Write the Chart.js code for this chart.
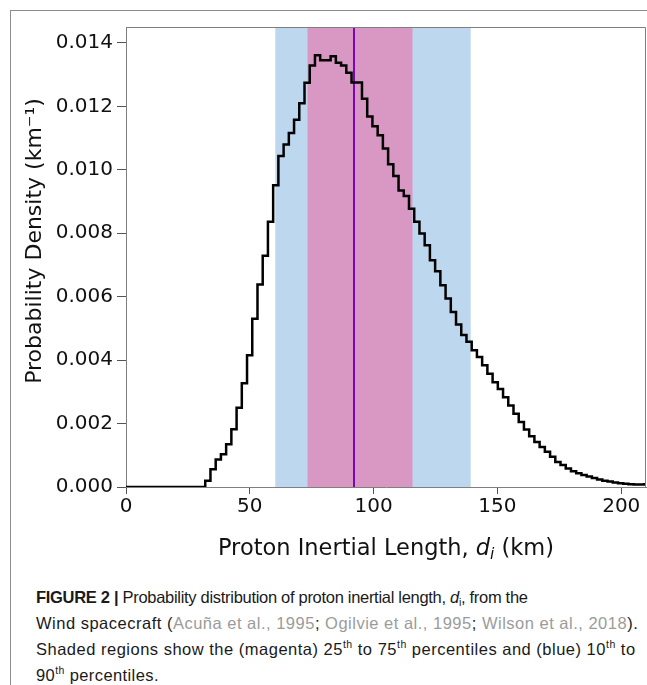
<!DOCTYPE html>
<html>
<head>
<meta charset="utf-8">
<script src="https://cdn.jsdelivr.net/npm/chart.js@4.4.1/dist/chart.umd.min.js"></script>
<style>
	html, body { margin: 0; padding: 0; background: #fff; }
	body { width: 647px; height: 685px; position: relative; overflow: hidden; }
	#frame { position: absolute; left: 10px; top: 10px; width: 660px; height: 700px; border-left: 1px solid #8c8c8c; border-top: 1px solid #8c8c8c; }
	#wrap { position: absolute; left: 0; top: 0; width: 647px; height: 580px; }
	#caption { position: absolute; left: 36px; top: 584px; white-space: nowrap; font-family: "Liberation Sans", Arial, sans-serif; font-size: 16.5px; line-height: 26px; color: #1a1a1a; }
	#caption div { height: 26px; }
	#caption .l1 { letter-spacing: -0.3px; }
	#caption .l2, #caption .l3 { letter-spacing: 0.5px; }
	#caption .l4 { letter-spacing: 0.4px; }
	#caption .cite { color: #9b9b9b; }
	#caption sup { font-size: 10.5px; line-height: 0; vertical-align: 7px; }
	#caption sub { font-size: 10.5px; line-height: 0; vertical-align: -3px; }
</style>
</head>
<body>
<div id="frame"></div>
<div id="wrap"><canvas id="hist-chart" width="647" height="580"></canvas></div>
<div id="caption">
	<div class="l1"><b>FIGURE 2 |</b> Probability distribution of proton inertial length, <i>d</i><sub>i</sub>, from the</div>
	<div class="l2">Wind spacecraft (<span class="cite">Acuña et al., 1995</span>; <span class="cite">Ogilvie et al., 1995</span>; <span class="cite">Wilson et al., 2018</span>).</div>
	<div class="l3">Shaded regions show the (magenta) 25<sup>th</sup> to 75<sup>th</sup> percentiles and (blue) 10<sup>th</sup> to</div>
	<div class="l4">90<sup>th</sup> percentiles.</div>
</div>

<script>
// histogram of proton inertial length (km)
var binStart = 32.0;
var binWidth = 2.11;
var density = [
	0.0002, 0.00056, 0.00087, 0.00103, 0.00135, 0.00182, 0.0025, 0.00327, 0.00415, 0.0053,
	0.00638, 0.00729, 0.00836, 0.00951, 0.01043, 0.0108, 0.01116, 0.01158, 0.0121, 0.01274,
	0.01329, 0.01361, 0.01345, 0.01345, 0.01358, 0.01337, 0.01329, 0.01306, 0.01275, 0.01275,
	0.01224, 0.01168, 0.01137, 0.01109, 0.01067, 0.01017, 0.0098, 0.00935, 0.00917, 0.00877,
	0.00836, 0.00799, 0.00762, 0.00715, 0.0068, 0.00636, 0.00594, 0.00552, 0.00512, 0.00479,
	0.00458, 0.00431, 0.0041, 0.00384, 0.00357, 0.0033, 0.00309, 0.00283, 0.00257, 0.00231,
	0.00205, 0.00181, 0.0016, 0.00142, 0.00126, 0.00111, 0.00095, 0.00079, 0.00069, 0.00058,
	0.0005, 0.00043, 0.00038, 0.00033, 0.00028, 0.00024, 0.0002, 0.00017, 0.00014, 0.00012,
	0.0001, 0.00009, 0.00008, 0.00008, 0.00009
];

var xTicks = [0, 50, 100, 150, 200];
var yTicks = [0, 0.002, 0.004, 0.006, 0.008, 0.010, 0.012, 0.014];

var band10to90 = [60.3, 139.2];
var band25to75 = [73.3, 115.7];
var medianLine = 92.1;

var xTitle = ['Proton Inertial Length, ', 'd', 'i', ' (km)'];
var yTitle = 'Probability Density (km\u207B\u00B9)';

// step points: each bin value starts at its left edge
var points = [{x: 0, y: 0}];
density.forEach(function (v, k) {
	points.push({x: binStart + k * binWidth, y: v});
});
points.push({x: binStart + density.length * binWidth, y: density[density.length - 1]});

var bandsPlugin = {
	id: 'bands',
	beforeDatasetsDraw: function (chart) {
		var ctx = chart.ctx, a = chart.chartArea, x = chart.scales.x;
		ctx.save();
		ctx.fillStyle = '#bdd7ee';
		ctx.fillRect(x.getPixelForValue(band10to90[0]), a.top, x.getPixelForValue(band10to90[1]) - x.getPixelForValue(band10to90[0]), a.bottom - a.top);
		ctx.fillStyle = '#d997c3';
		ctx.fillRect(x.getPixelForValue(band25to75[0]), a.top, x.getPixelForValue(band25to75[1]) - x.getPixelForValue(band25to75[0]), a.bottom - a.top);
		ctx.strokeStyle = '#7a06b4';
		ctx.lineWidth = 2;
		var mx = Math.round(x.getPixelForValue(medianLine));
		ctx.beginPath();
		ctx.moveTo(mx, a.top);
		ctx.lineTo(mx, a.bottom);
		ctx.stroke();
		ctx.restore();
	},
	afterDraw: function (chart) {
		var ctx = chart.ctx, a = chart.chartArea;
		ctx.save();
		// top and right spines
		ctx.strokeStyle = '#7f7f7f';
		ctx.lineWidth = 1;
		ctx.beginPath();
		ctx.moveTo(a.left, a.top + 0.5);
		ctx.lineTo(a.right - 0.5, a.top + 0.5);
		ctx.lineTo(a.right - 0.5, a.bottom);
		ctx.stroke();

		ctx.fillStyle = '#111';

		// y axis title
		ctx.save();
		ctx.translate(35, 241);
		ctx.rotate(-Math.PI / 2);
		ctx.font = '22px "DejaVu Sans"';
		ctx.textAlign = 'center';
		ctx.textBaseline = 'middle';
		ctx.fillText(yTitle, 0, 0);
		ctx.restore();

		// x axis title with italic d_i
		var f = '22.5px "DejaVu Sans"';
		var fi = 'oblique 22.5px "DejaVu Sans"';
		var fs = 'oblique 15.5px "DejaVu Sans"';
		ctx.textBaseline = 'alphabetic';
		ctx.textAlign = 'left';
		ctx.font = f; var w0 = ctx.measureText(xTitle[0]).width, w3 = ctx.measureText(xTitle[3]).width;
		ctx.font = fi; var w1 = ctx.measureText(xTitle[1]).width;
		ctx.font = fs; var w2 = ctx.measureText(xTitle[2]).width;
		var total = w0 + w1 + w2 + w3;
		var sx = (a.left + a.right) / 2 - total / 2;
		var by = 555;
		ctx.font = f; ctx.fillText(xTitle[0], sx, by);
		ctx.font = fi; ctx.fillText(xTitle[1], sx + w0, by);
		ctx.font = fs; ctx.fillText(xTitle[2], sx + w0 + w1, by + 4);
		ctx.font = f; ctx.fillText(xTitle[3], sx + w0 + w1 + w2, by);
		ctx.restore();
	}
};

new Chart('hist-chart', {
	type: 'line',
	data: {
		datasets: [
			{
				data: points,
				stepped: 'before',
				borderColor: '#000',
				borderWidth: 2.5,
				pointRadius: 0,
				fill: false
			}
		]
	},
	options: {
		responsive: false,
		animation: false,
		events: [],
		layout: { padding: { left: 0, top: 27, right: 1, bottom: 0 } },
		plugins: {
			legend: { display: false },
			tooltip: { enabled: false }
		},
		scales: {
			x: {
				type: 'linear',
				min: 0,
				max: 210,
				afterFit: function (scale) { scale.height = 93; },
				afterBuildTicks: function (scale) {
					scale.ticks = xTicks.map(function (v) { return {value: v}; });
				},
				ticks: {
					color: '#111',
					font: { family: 'DejaVu Sans', size: 20 },
					padding: 1,
					maxRotation: 0,
					callback: function (v) { return String(v); }
				},
				grid: { drawOnChartArea: false, tickLength: 7, color: '#555' },
				border: { display: true, color: '#7f7f7f', width: 1 }
			},
			y: {
				type: 'linear',
				min: 0,
				max: 0.0145,
				afterFit: function (scale) { scale.width = 126; },
				afterBuildTicks: function (scale) {
					scale.ticks = yTicks.map(function (v) { return {value: v}; });
				},
				ticks: {
					color: '#111',
					font: { family: 'DejaVu Sans', size: 20 },
					padding: 4,
					callback: function (v) { return v.toFixed(3); }
				},
				grid: { drawOnChartArea: false, tickLength: 9, color: '#555' },
				border: { display: true, color: '#7f7f7f', width: 1 }
			}
		}
	},
	plugins: [bandsPlugin]
});
</script>
</body>
</html>
